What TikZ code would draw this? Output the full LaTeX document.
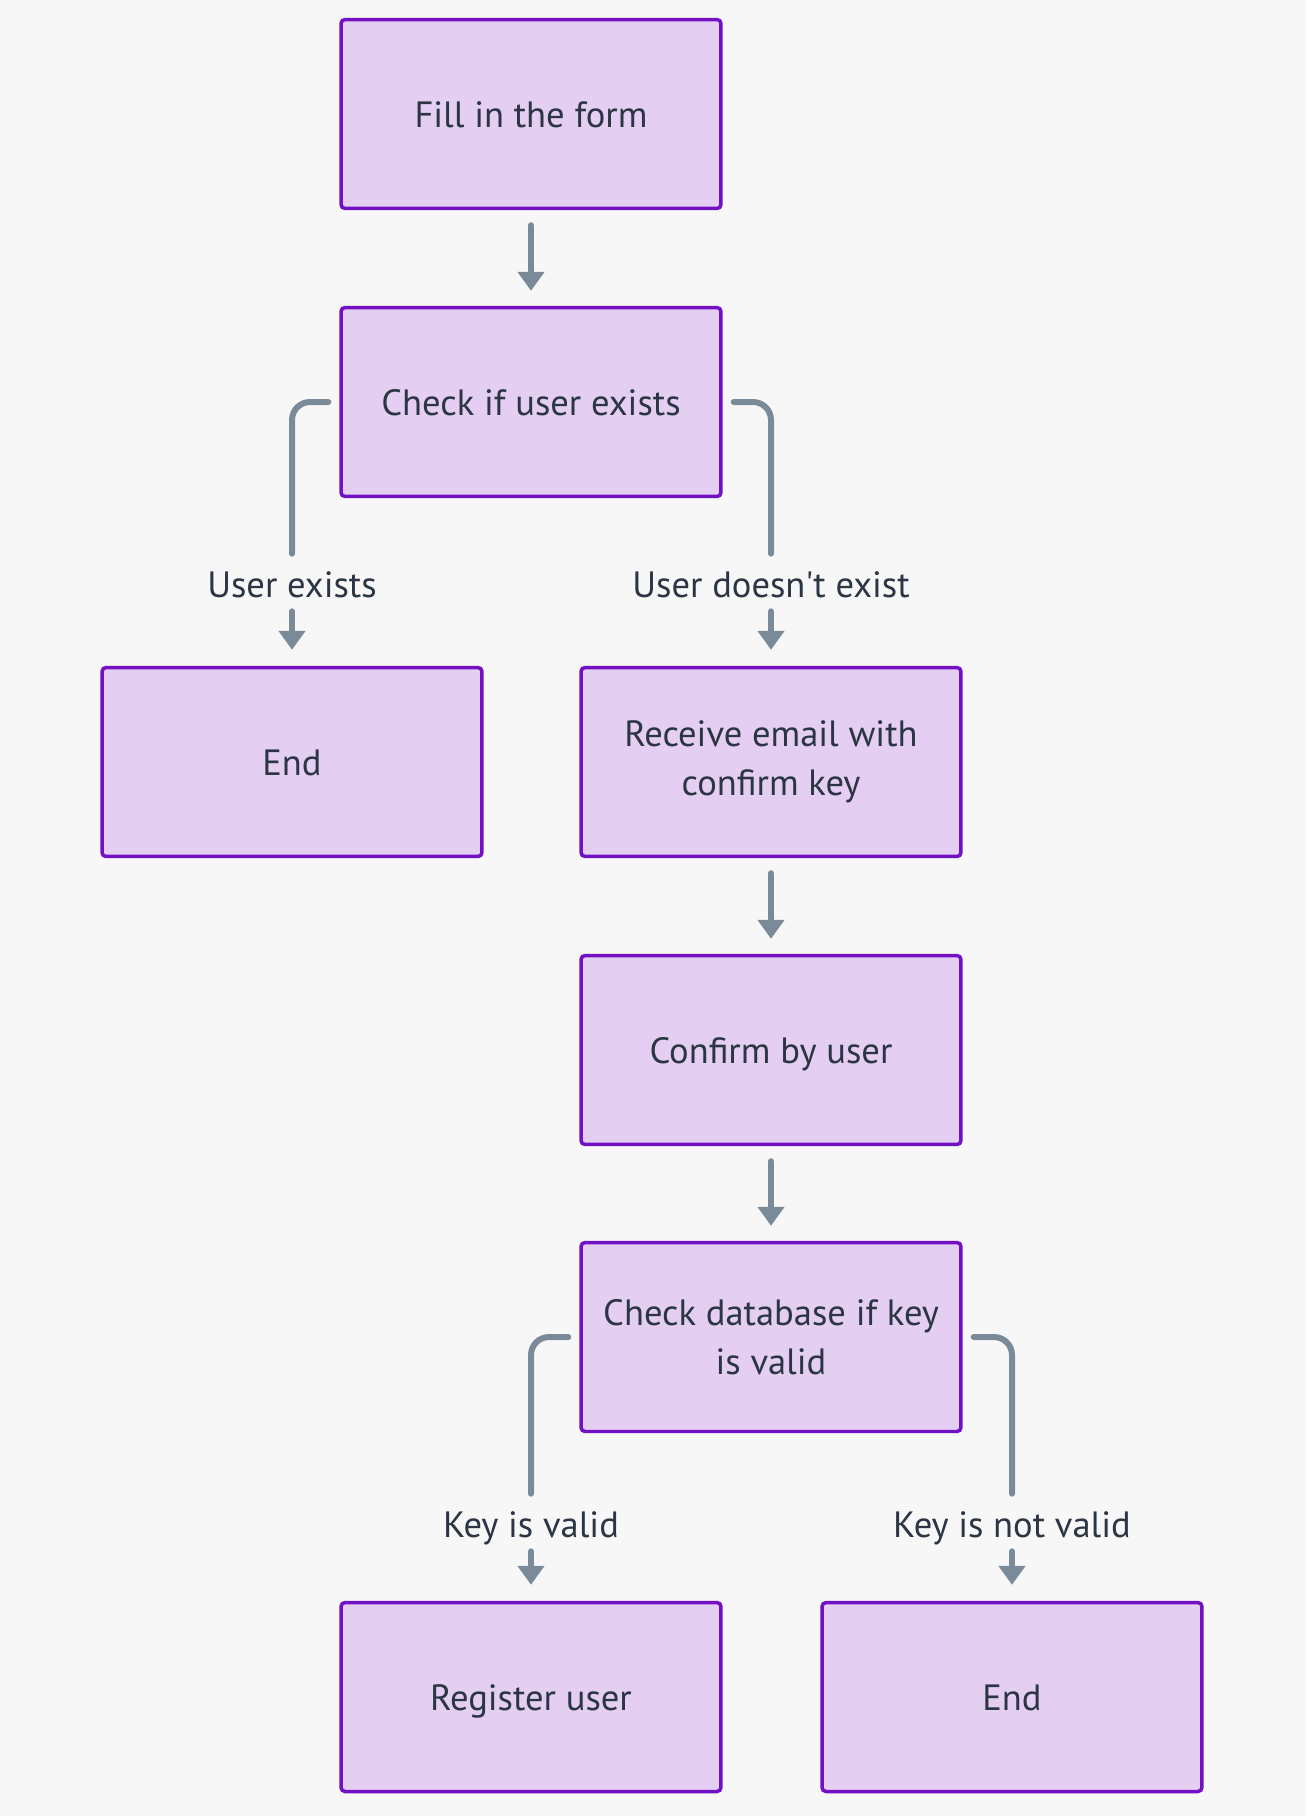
\documentclass[tikz,border=0pt]{standalone}
\usepackage{fontspec}
\setmainfont{PT Sans}
\usetikzlibrary{arrows.meta}

\definecolor{bgc}{HTML}{F7F7F7}
\definecolor{boxfill}{HTML}{E4CFF3}
\definecolor{boxline}{HTML}{7410C4}
\definecolor{linkc}{HTML}{7A8A99}
\definecolor{txtc}{HTML}{2B3544}

\tikzstyle{box} = [draw=boxline, fill=boxfill, line width=0.07cm, rounded corners=0.08cm,
  minimum width=7.6cm, minimum height=3.78cm, align=center, text=txtc,
  text height=0.6cm, text depth=0.08cm, font=\fontsize{20.8}{27.6}\selectfont]
\tikzstyle{twobox} = [box, text height={}, text depth={}]
\tikzstyle{lbl} = [text=txtc, inner sep=0pt, minimum height=0.96cm,
  text height=0.6cm, text depth=0.08cm, font=\fontsize{20.8}{27.6}\selectfont]
\tikzstyle{link} = [draw=linkc, line width=0.12cm, line cap=round, rounded corners=0.36cm]
\tikzstyle{flow} = [draw=linkc, line width=0.12cm, line cap=round,
  -{Triangle[width=0.52cm,length=0.38cm]}]

\begin{document}
\begin{tikzpicture}[x=0.02cm, y=-0.02cm]

		%background
		\fill[bgc] (0,0) rectangle (1306,1816);
		\useasboundingbox (0,0) rectangle (1306,1816);
		%steps
		\node[box] (form) at (531,114) {Fill in the form};
		\node[box] (check) at (531,402) {Check if user exists};
		\node[box] (endA) at (292,762) {End};
		\node[twobox] (mail) at (771,762) {Receive email with\\confirm key};
		\node[box] (confirm) at (771,1050) {Confirm by user};
		\node[twobox] (keycheck) at (771,1337) {Check database if key\\is valid};
		\node[box] (register) at (531,1697) {Register user};
		\node[box] (endB) at (1012,1697) {End};
		%labels
		\node[lbl] (exists) at (292,584) {User exists};
		\node[lbl] (notexists) at (771,584) {User doesn\textquotesingle t exist};
		\node[lbl] (valid) at (531,1524) {Key is valid};
		\node[lbl] (notvalid) at (1012,1524) {Key is not valid};
		%arrows
		\draw[flow, shorten <=0.3cm, shorten >=0.3cm] (form) -- (check);
		\draw[flow, shorten <=0.3cm, shorten >=0.3cm] (mail) -- (confirm);
		\draw[flow, shorten <=0.3cm, shorten >=0.3cm] (confirm) -- (keycheck);
		%branches
		\draw[link, shorten >=0.12cm] ([xshift=-0.22cm]check.west) -| (exists.north);
		\draw[link, shorten >=0.12cm] ([xshift=0.22cm]check.east) -| (notexists.north);
		\draw[flow, shorten <=0.06cm, shorten >=0.32cm] (exists.south) -- (endA.north);
		\draw[flow, shorten <=0.06cm, shorten >=0.32cm] (notexists.south) -- (mail.north);
		\draw[link, shorten >=0.12cm] ([xshift=-0.22cm]keycheck.west) -| (valid.north);
		\draw[link, shorten >=0.12cm] ([xshift=0.22cm]keycheck.east) -| (notvalid.north);
		\draw[flow, shorten <=0.06cm, shorten >=0.32cm] (valid.south) -- (register.north);
		\draw[flow, shorten <=0.06cm, shorten >=0.32cm] (notvalid.south) -- (endB.north);
\end{tikzpicture}
\end{document}
